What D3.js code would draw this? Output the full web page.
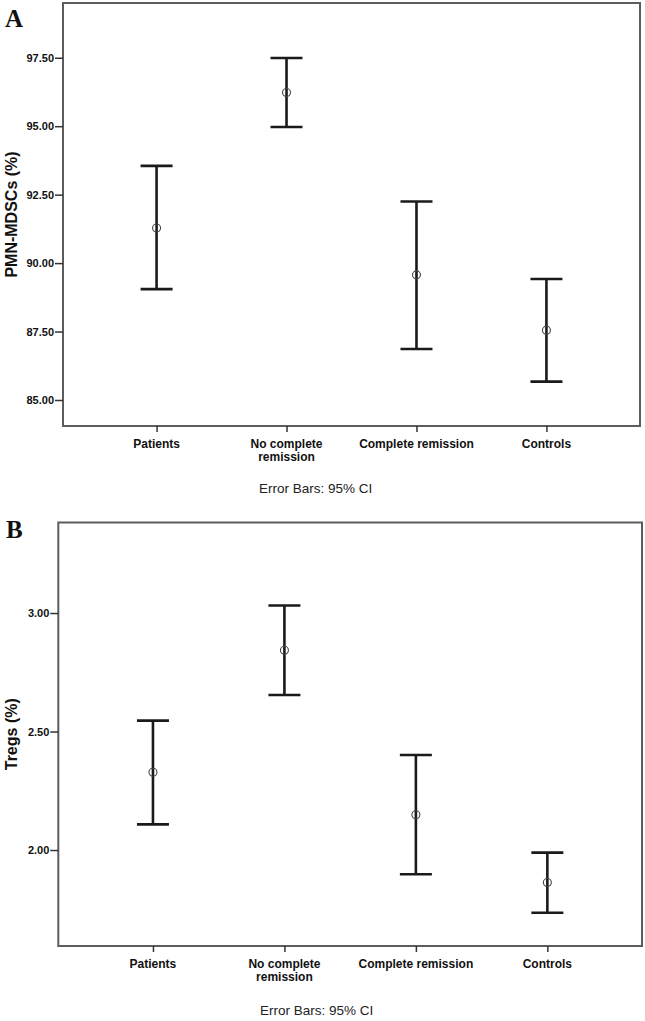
<!DOCTYPE html>
<html><head><meta charset="utf-8">
<script src="https://cdn.jsdelivr.net/npm/d3@7"></script>
<style>body{margin:0;background:#fff}svg{display:block}</style>
</head><body>
<script>
const categories = ["Patients", "No complete remission", "Complete remission", "Controls"];
const categoryLines = [["Patients"], ["No complete", "remission"], ["Complete remission"], ["Controls"]];
// Panel A: PMN-MDSCs (%)
const meanA  = [91.28, 96.23, 89.57, 87.55];
const lowerA = [89.05, 94.97, 86.86, 85.67];
const upperA = [93.55, 97.49, 92.25, 89.42];
const ticksA = [85.0, 87.5, 90.0, 92.5, 95.0, 97.5];
// Panel B: Tregs (%)
const meanB  = [2.328, 2.843, 2.149, 1.863];
const lowerB = [2.108, 2.654, 1.898, 1.735];
const upperB = [2.546, 3.032, 2.401, 1.989];
const ticksB = [2.0, 2.5, 3.0];

const svg = d3.select("body").append("svg").attr("width", 645).attr("height", 1021);

function panel(o) {
  const g = svg.append("g");
  const x = d3.scalePoint().domain(categories).range([o.left, o.right]).padding(0.72);
  const y = d3.scaleLinear().domain(o.domain).range([o.bottom, o.top]);
  g.append("rect").attr("x", o.left).attr("y", o.top)
    .attr("width", o.right - o.left).attr("height", o.bottom - o.top)
    .attr("fill", "none").attr("stroke", "#5c5c5c").attr("stroke-width", 2);
  const ya = g.append("g").attr("transform", `translate(${o.left},0)`)
    .call(d3.axisLeft(y).tickValues(o.ticks).tickFormat(d3.format(".2f")).tickSize(8).tickPadding(1));
  ya.select(".domain").remove();
  ya.selectAll(".tick line").attr("stroke", "#333").attr("stroke-width", 1.5);
  ya.selectAll(".tick text").attr("font-family", "Liberation Sans, Arial, sans-serif")
    .attr("font-size", 11).attr("font-weight", "bold").attr("fill", "#111");
  const xa = g.append("g").attr("transform", `translate(0,${o.bottom})`)
    .call(d3.axisBottom(x).tickSize(6).tickFormat(""));
  xa.select(".domain").remove();
  xa.selectAll(".tick line").attr("stroke", "#333").attr("stroke-width", 1.5);
  categories.forEach((c, i) => {
    categoryLines[i].forEach((ln, j) => {
      g.append("text").attr("x", x(c)).attr("y", o.bottom + 22 + j * 12.5)
        .attr("text-anchor", "middle").attr("font-family", "Liberation Sans, Arial, sans-serif")
        .attr("font-size", 12).attr("font-weight", "bold").attr("fill", "#111").text(ln);
    });
  });
  g.append("text").attr("transform", `translate(17,${(o.top + o.bottom) / 2}) rotate(-90)`)
    .attr("text-anchor", "middle").attr("font-family", "Liberation Sans, Arial, sans-serif")
    .attr("font-size", 16).attr("font-weight", "bold").attr("fill", "#111").text(o.title);
  const data = categories.map((c, i) => ({c, m: o.mean[i], lo: o.lower[i], hi: o.upper[i]}));
  const eb = g.append("g").attr("stroke", "#1a1a1a").attr("stroke-width", 2.6);
  eb.selectAll(".v").data(data).join("line")
    .attr("x1", d => x(d.c)).attr("x2", d => x(d.c)).attr("y1", d => y(d.lo)).attr("y2", d => y(d.hi));
  eb.selectAll(".t").data(data).join("line")
    .attr("x1", d => x(d.c) - 16).attr("x2", d => x(d.c) + 16).attr("y1", d => y(d.hi)).attr("y2", d => y(d.hi));
  eb.selectAll(".b").data(data).join("line")
    .attr("x1", d => x(d.c) - 16).attr("x2", d => x(d.c) + 16).attr("y1", d => y(d.lo)).attr("y2", d => y(d.lo));
  g.selectAll("circle").data(data).join("circle")
    .attr("cx", d => x(d.c)).attr("cy", d => y(d.m)).attr("r", 4)
    .attr("fill", "none").attr("stroke", "#444").attr("stroke-width", 1.1);
  g.append("text").attr("x", o.noteX).attr("y", o.noteY)
    .attr("font-family", "Liberation Sans, Arial, sans-serif").attr("font-size", 13.5)
    .attr("fill", "#222").text("Error Bars: 95% CI");
  g.append("text").attr("x", o.letterX).attr("y", o.letterY)
    .attr("font-family", "Liberation Serif, Times New Roman, serif").attr("font-size", 25)
    .attr("font-weight", "bold").attr("fill", "#111").text(o.letter);
}

panel({left: 63, right: 640, top: 3, bottom: 426, domain: [84.05, 99.5], ticks: ticksA,
  mean: meanA, lower: lowerA, upper: upperA, title: "PMN-MDSCs (%)",
  noteX: 259, noteY: 493, letter: "A", letterX: 5, letterY: 27});
panel({left: 58.3, right: 642, top: 522.5, bottom: 946, domain: [1.595, 3.382], ticks: ticksB,
  mean: meanB, lower: lowerB, upper: upperB, title: "Tregs (%)",
  noteX: 260, noteY: 1015, letter: "B", letterX: 6, letterY: 538});
</script>
</body></html>
